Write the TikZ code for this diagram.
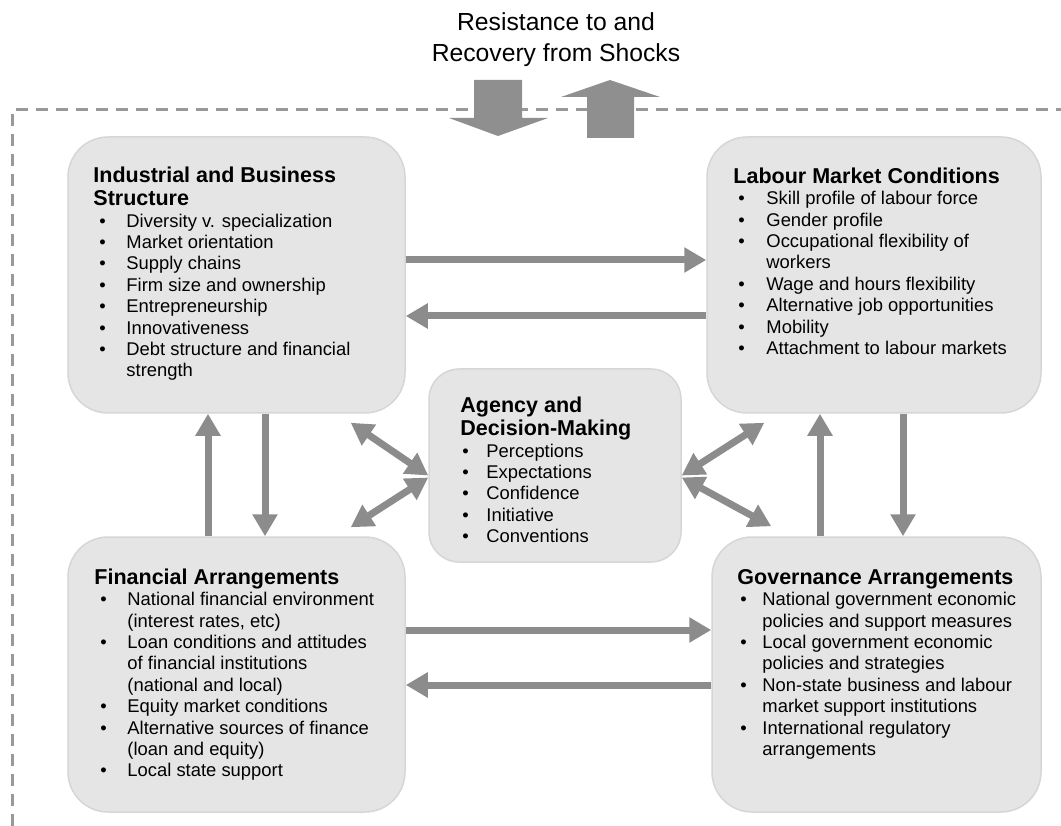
\documentclass[tikz,border=0pt]{standalone}
\usepackage{fontspec}
\setmainfont{Liberation Sans}
\usetikzlibrary{arrows.meta, positioning}

\newlength\bulpre
\newlength\bulhang
\newcommand\bul[1]{\par\hangindent=\bulhang\hangafter=1\noindent
  \makebox[\bulhang][l]{\hspace{\bulpre}\textbullet}#1}
\newcommand\panel[4]{\begin{minipage}[t]{330pt}\raggedright
  \setlength\bulpre{#1}\setlength\bulhang{#2}%
  {\fontsize{21.5pt}{23.5pt}\selectfont\bfseries\noindent #3\par}%
  \fontsize{18.4pt}{21.4pt}\selectfont #4\par\end{minipage}}

\begin{document}
\begin{tikzpicture}[
  x=1pt, y=-1pt,
  panelbox/.style={rectangle, draw=black!16, line width=1.5pt, fill=black!10,
                   rounded corners=40pt, inner sep=0pt},
  txt/.style={anchor=base west, inner sep=0pt},
  arr/.style={-{Triangle[length=22pt, width=24pt]}, line width=7pt, draw=black!45},
  darr/.style={{Triangle[length=22pt, width=24pt]}-{Triangle[length=22pt, width=24pt]},
               line width=7pt, draw=black!45},
  bigarr/.style={fill=black!44}
]
  \useasboundingbox (0,0) rectangle (1061,826);

  % outer dashed frame
  \draw[black!40, line width=3pt, dash pattern=on 12pt off 8pt] (12,826) -- (12,110) -- (1061,110);

  % shock arrows and label
  \node[anchor=base, inner sep=0pt] (shock) at (556,31)
    {\begin{minipage}[t]{320pt}\centering\fontsize{24.7pt}{31pt}\selectfont
     Resistance to and\\Recovery from Shocks\end{minipage}};
  \fill[bigarr] (474,80) -- (522,80) -- (522,118) -- (548,118) -- (498,136)
    -- (449,118) -- (474,118) -- cycle;
  \fill[bigarr] (587,138) -- (634,138) -- (634,97) -- (660,97) -- (610,80)
    -- (561,97) -- (587,97) -- cycle;

  % boxes
  \node[panelbox, minimum width=337pt, minimum height=276pt] (ibs) at (236.5,275) {};
  \node[panelbox, minimum width=334pt, minimum height=276pt] (lmc) at (874,275) {};
  \node[panelbox, minimum width=252pt, minimum height=193pt, rounded corners=30pt]
    (agency) at (555,465.5) {};
  \node[panelbox, minimum width=337pt, minimum height=275pt] (fin) at (236.5,674.5) {};
  \node[panelbox, minimum width=329pt, minimum height=275pt] (gov) at (876.5,674.5) {};

  % box texts
  \node[txt] (ibs-txt) at ([xshift=26pt, yshift=-46pt]ibs.north west)
    {\panel{6pt}{33pt}{Industrial and Business\\Structure}{%
      \bul{Diversity v. specialization}
      \bul{Market orientation}
      \bul{Supply chains}
      \bul{Firm size and ownership}
      \bul{Entrepreneurship}
      \bul{Innovativeness}
      \bul{Debt structure and financial\newline strength}}};
  \node[txt] (lmc-txt) at ([xshift=27pt, yshift=-47pt]lmc.north west)
    {\panel{5pt}{33pt}{Labour Market Conditions}{%
      \bul{Skill profile of labour force}
      \bul{Gender profile}
      \bul{Occupational flexibility of\newline workers}
      \bul{Wage and hours flexibility}
      \bul{Alternative job opportunities}
      \bul{Mobility}
      \bul{Attachment to labour markets}}};
  \node[txt] (agency-txt) at ([xshift=32pt, yshift=-44pt]agency.north west)
    {\panel{2pt}{26pt}{Agency and\\Decision-Making}{%
      \bul{Perceptions}
      \bul{Expectations}
      \bul{Confidence}
      \bul{Initiative}
      \bul{Conventions}}};
  \node[txt] (fin-txt) at ([xshift=27pt, yshift=-48pt]fin.north west)
    {\panel{6pt}{33pt}{Financial Arrangements}{%
      \bul{National financial environment\newline (interest rates, etc)}
      \bul{Loan conditions and attitudes\newline of financial institutions\newline (national and local)}
      \bul{Equity market conditions}
      \bul{Alternative sources of finance\newline (loan and equity)}
      \bul{Local state support}}};
  \node[txt] (gov-txt) at ([xshift=26pt, yshift=-48pt]gov.north west)
    {\panel{3pt}{25pt}{Governance Arrangements}{%
      \bul{National government economic\newline policies and support measures}
      \bul{Local government economic\newline policies and strategies}
      \bul{Non-state business and labour\newline market support institutions}
      \bul{International regulatory\newline arrangements}}};

  % horizontal links
  \draw[arr] ([yshift=15pt]ibs.east) -- ([yshift=15pt]ibs.east -| lmc.west);
  \draw[arr] ([yshift=-41pt]lmc.west) -- ([yshift=-41pt]lmc.west -| ibs.east);
  \draw[arr] ([yshift=44.5pt]fin.east) -- ([yshift=44.5pt]fin.east -| gov.west);
  \draw[arr] ([yshift=-10.5pt]gov.west) -- ([yshift=-10.5pt]gov.west -| fin.east);

  % vertical links
  \draw[arr] ([xshift=-28.5pt]fin.north) -- ([xshift=-28.5pt]fin.north |- ibs.south);
  \draw[arr] ([xshift=28.5pt]ibs.south) -- ([xshift=28.5pt]ibs.south |- fin.north);
  \draw[arr] ([xshift=-56.5pt]gov.north) -- ([xshift=-56.5pt]gov.north |- lmc.south);
  \draw[arr] ([xshift=29pt]lmc.south) -- ([xshift=29pt]lmc.south |- gov.north);

  % links to agency
  \draw[darr] ([xshift=-55pt, yshift=-9pt]ibs.south east) -- ([yshift=-10pt]agency.west);
  \draw[darr] ([xshift=-55pt, yshift=9pt]fin.north east) -- ([yshift=-12pt]agency.west);
  \draw[darr] ([xshift=58pt, yshift=-9pt]lmc.south west) -- ([yshift=-10pt]agency.east);
  \draw[darr] ([xshift=60pt, yshift=10pt]gov.north west) -- ([yshift=-12pt]agency.east);
\end{tikzpicture}
\end{document}
